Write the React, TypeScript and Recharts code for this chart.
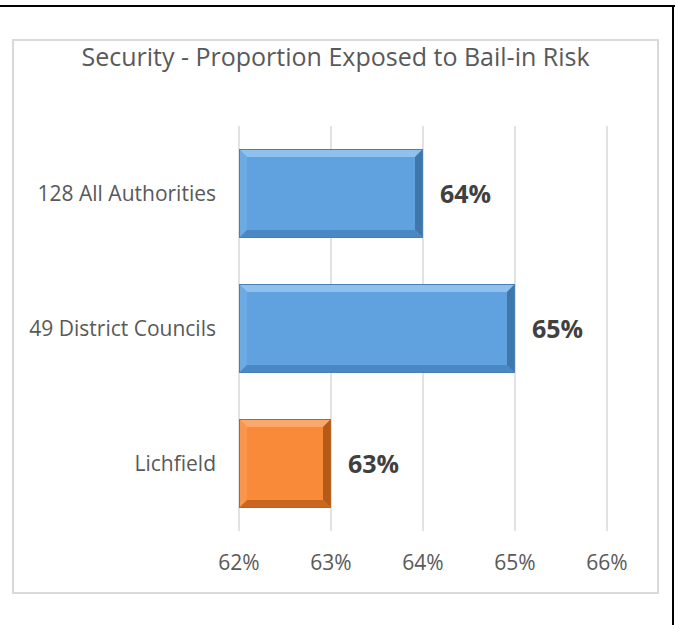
import React from 'react';
import { BarChart, Bar, XAxis, YAxis, CartesianGrid, Cell, LabelList } from 'recharts';

const title = 'Security - Proportion Exposed to Bail-in Risk';
const categories = ['128 All Authorities', '49 District Councils', 'Lichfield'];
const values = [0.64, 0.65, 0.63];
const xTicks = [0.62, 0.63, 0.64, 0.65, 0.66];

const data = categories.map((name, i) => ({ name, value: values[i] }));

const BLUE = { face: '#60A2DF', top: '#8EC1EE', left: '#6CAAE4', right: '#3F77AB', bottom: '#4A88C3', stroke: '#4A7FB5' };
const ORANGE = { face: '#F88A3A', top: '#FBA86A', left: '#F9964B', right: '#B65A18', bottom: '#C9661F', stroke: '#B8631F' };
const palettes = [BLUE, BLUE, ORANGE];

const FONT = '"Open Sans", sans-serif';
const TEXT = '#595959';

const pct = (v: number) => `${Math.round(v * 100)}%`;

const BevelBar = (props: any) => {
  const { x, y, width: w, height: h, index } = props;
  if (w == null || h == null || w <= 0 || h <= 0) return null;
  const p = palettes[index] || BLUE;
  const b = Math.min(8, w / 2, h / 2);
  const pts = (arr: number[][]) => arr.map((q) => q.join(',')).join(' ');
  return (
    <g>
      <rect x={x} y={y} width={w} height={h} fill={p.face} />
      <polygon points={pts([[x, y], [x + w, y], [x + w - b, y + b], [x + b, y + b]])} fill={p.top} />
      <polygon points={pts([[x, y], [x + b, y + b], [x + b, y + h - b], [x, y + h]])} fill={p.left} />
      <polygon points={pts([[x + w, y], [x + w, y + h], [x + w - b, y + h - b], [x + w - b, y + b]])} fill={p.right} />
      <polygon points={pts([[x, y + h], [x + b, y + h - b], [x + w - b, y + h - b], [x + w, y + h]])} fill={p.bottom} />
      <rect x={x + 0.5} y={y + 0.5} width={w - 1} height={h - 1} fill="none" stroke={p.stroke} strokeWidth={1} />
    </g>
  );
};

const ValueLabel = (props: any) => {
  const { x, y, width, height, value } = props;
  return (
    <text
      x={x + width + 17}
      y={y + height / 2}
      dy="0.36em"
      textAnchor="start"
      fontFamily={FONT}
      fontWeight={700}
      fontSize={25}
      fill="#404040"
    >
      {pct(value)}
    </text>
  );
};

export default function App() {
  return (
    <div style={{ position: 'fixed', left: 0, top: 0, width: 677, height: 625, background: '#fff', overflow: 'hidden' }}>
      <div style={{ position: 'absolute', left: 0, top: 5, width: 675, height: 2, background: '#000' }} />
      <div style={{ position: 'absolute', left: 672, top: 5, width: 2, height: 625, background: '#000' }} />
      <div
        style={{
          position: 'absolute',
          left: 12,
          top: 39,
          width: 647,
          height: 555,
          border: '2px solid #D9D9D9',
          boxSizing: 'border-box',
        }}
      />
      <div
        style={{
          position: 'absolute',
          left: 13,
          top: 40,
          width: 645,
          lineHeight: '32px',
          textAlign: 'center',
          fontFamily: FONT,
          fontSize: 25,
          color: TEXT,
        }}
      >
        {title}
      </div>
      <div style={{ position: 'absolute', left: 0, top: 0 }}>
        <BarChart
          width={677}
          height={625}
          data={data}
          layout="vertical"
          margin={{ top: 126, right: 70, bottom: 54, left: 13 }}
          barSize={89}
        >
          <CartesianGrid horizontal={false} stroke="#D9D9D9" strokeWidth={1.5} />
          <XAxis
            type="number"
            domain={[0.62, 0.66]}
            ticks={xTicks}
            tickFormatter={pct}
            axisLine={false}
            tickLine={false}
            tickSize={0}
            tickMargin={24}
            height={40}
            interval={0}
            tick={{ fontFamily: FONT, fontSize: 21, fill: TEXT }}
          />
          <YAxis
            type="category"
            dataKey="name"
            axisLine={false}
            tickLine={false}
            tickSize={0}
            tickMargin={23}
            width={226}
            interval={0}
            tick={{ fontFamily: FONT, fontSize: 21, fill: TEXT }}
          />
          <Bar dataKey="value" isAnimationActive={false} shape={BevelBar}>
            {data.map((d, i) => (
              <Cell key={d.name} fill={palettes[i].face} />
            ))}
            <LabelList dataKey="value" content={ValueLabel} />
          </Bar>
        </BarChart>
      </div>
    </div>
  );
}
